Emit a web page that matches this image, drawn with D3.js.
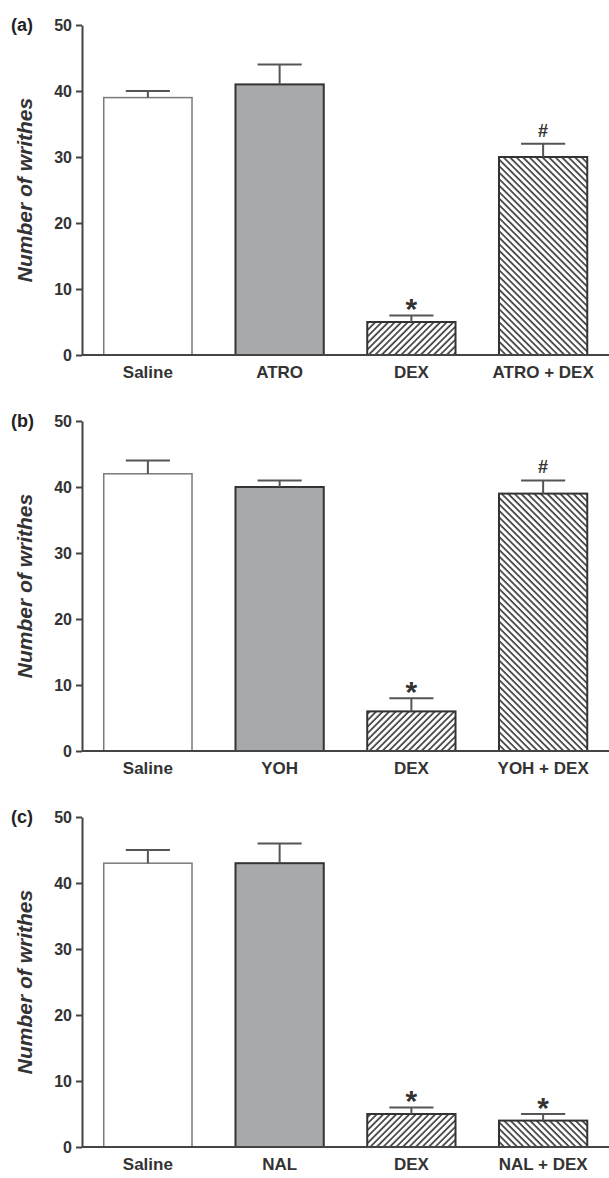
<!DOCTYPE html>
<html>
<head>
<meta charset="utf-8">
<script src="https://cdn.jsdelivr.net/npm/d3@7"></script>
<style>
  body { margin: 0; background: #fff; }
  svg { display: block; font-family: "Liberation Sans", Arial, Helvetica, sans-serif; }
</style>
</head>
<body>
<div id="chart"></div>
<script>
var panel_labels = ["(a)", "(b)", "(c)"];

var categories_a = ["Saline", "ATRO", "DEX", "ATRO + DEX"];
var means_a = [39, 41, 5, 30];
var errors_a = [1, 3, 1, 2];
var marks_a = ["", "", "*", "#"];

var categories_b = ["Saline", "YOH", "DEX", "YOH + DEX"];
var means_b = [42, 40, 6, 39];
var errors_b = [2, 1, 2, 2];
var marks_b = ["", "", "*", "#"];

var categories_c = ["Saline", "NAL", "DEX", "NAL + DEX"];
var means_c = [43, 43, 5, 4];
var errors_c = [2, 3, 1, 1];
var marks_c = ["", "", "*", "*"];

var y_ticks = [0, 10, 20, 30, 40, 50];
var y_title = "Number of writhes";

var width = 609, height = 1178;
var panel_step = 396;
var axis_x = 82;

var svg = d3.select("#chart")
            .append("svg")
            .attr("width", width)
            .attr("height", height);

// hatch patterns for DEX ("/") and combination ("\") bars
var defs = svg.append("defs");
function hatch(id, angle) {
    var p = defs.append("pattern")
                .attr("id", id)
                .attr("patternUnits", "userSpaceOnUse")
                .attr("width", 4.6)
                .attr("height", 10)
                .attr("patternTransform", "rotate(" + angle + ")");
    p.append("rect").attr("width", 4.6).attr("height", 10).attr("fill", "#fff");
    p.append("line")
     .attr("x1", 1).attr("y1", 0).attr("x2", 1).attr("y2", 10)
     .attr("stroke", "#333").attr("stroke-width", 1.6);
}
hatch("hatch_right", 45);
hatch("hatch_left", -45);

var bar_fill = ["#ffffff", "#a8a9ac", "url(#hatch_right)", "url(#hatch_left)"];
var bar_stroke = ["#7a7a7a", "#333333", "#333333", "#333333"];
var bar_stroke_w = [1.5, 2, 2, 2];

var panels = [
    { label: panel_labels[0], cats: categories_a, means: means_a, errs: errors_a, marks: marks_a },
    { label: panel_labels[1], cats: categories_b, means: means_b, errs: errors_b, marks: marks_b },
    { label: panel_labels[2], cats: categories_c, means: means_c, errs: errors_c, marks: marks_c }
];

panels.forEach(function(pd, pi) {
    var off = pi * panel_step;
    var g = svg.append("g");

    var y = d3.scaleLinear().domain([0, 50]).range([355 + off, 25 + off]);
    var x = d3.scaleBand().domain(pd.cats).range([axis_x, width])
              .paddingInner(0.33).paddingOuter(0.165);

    var rows = pd.cats.map(function(c, i) {
        return { cat: c, mean: pd.means[i], err: pd.errs[i], mark: pd.marks[i], i: i };
    });

    // bars
    g.selectAll("rect.bar")
     .data(rows)
     .enter()
     .append("rect")
     .attr("class", "bar")
     .attr("x", function(d) { return x(d.cat); })
     .attr("width", x.bandwidth())
     .attr("y", function(d) { return y(d.mean); })
     .attr("height", function(d) { return y(0) - y(d.mean); })
     .attr("fill", function(d) { return bar_fill[d.i]; })
     .attr("stroke", function(d) { return bar_stroke[d.i]; })
     .attr("stroke-width", function(d) { return bar_stroke_w[d.i]; });

    // error bars (upper only)
    var cap = x.bandwidth() / 2;
    var eb = g.selectAll("g.err")
              .data(rows)
              .enter()
              .append("g")
              .attr("class", "err")
              .attr("stroke", "#555")
              .attr("stroke-width", 2);
    eb.append("line")
      .attr("x1", function(d) { return x(d.cat) + x.bandwidth() / 2; })
      .attr("x2", function(d) { return x(d.cat) + x.bandwidth() / 2; })
      .attr("y1", function(d) { return y(d.mean); })
      .attr("y2", function(d) { return y(d.mean + d.err); });
    eb.append("line")
      .attr("x1", function(d) { return x(d.cat) + x.bandwidth() / 2 - cap / 2; })
      .attr("x2", function(d) { return x(d.cat) + x.bandwidth() / 2 + cap / 2; })
      .attr("y1", function(d) { return y(d.mean + d.err); })
      .attr("y2", function(d) { return y(d.mean + d.err); });

    // significance marks
    g.selectAll("text.mark")
     .data(rows.filter(function(d) { return d.mark !== ""; }))
     .enter()
     .append("text")
     .attr("class", "mark")
     .attr("x", function(d) { return x(d.cat) + x.bandwidth() / 2; })
     .attr("y", function(d) { return y(d.mean + d.err) + (d.mark === "*" ? 4 : -7); })
     .attr("text-anchor", "middle")
     .attr("font-weight", "bold")
     .attr("font-size", function(d) { return d.mark === "*" ? 30 : 18; })
     .attr("fill", "#333")
     .text(function(d) { return d.mark; });

    // y axis
    var ya = g.append("g")
              .attr("transform", "translate(" + axis_x + ",0)")
              .call(d3.axisLeft(y).tickValues(y_ticks).tickSize(6).tickSizeOuter(0).tickPadding(4));
    ya.select(".domain").attr("stroke", "#444").attr("stroke-width", 2);
    ya.selectAll(".tick line").attr("stroke", "#444").attr("stroke-width", 2);
    ya.selectAll(".tick text")
      .attr("font-size", 16)
      .attr("font-weight", "bold")
      .attr("font-family", "Liberation Sans, Arial, sans-serif")
      .attr("fill", "#333");

    // x axis
    var xa = g.append("g")
              .attr("transform", "translate(0," + y(0) + ")")
              .call(d3.axisBottom(x).tickSize(0).tickSizeOuter(0).tickPadding(11));
    xa.select(".domain").attr("stroke", "#444").attr("stroke-width", 2)
      .attr("d", "M" + axis_x + ",0H" + width);
    xa.selectAll(".tick text")
      .attr("font-size", 17)
      .attr("font-weight", "bold")
      .attr("font-family", "Liberation Sans, Arial, sans-serif")
      .attr("fill", "#333");

    // y title
    g.append("text")
     .attr("transform", "translate(32," + (y(25)) + ") rotate(-90)")
     .attr("text-anchor", "middle")
     .attr("font-size", 21)
     .attr("font-weight", "bold")
     .attr("font-style", "italic")
     .attr("fill", "#333")
     .text(y_title);

    // panel label
    g.append("text")
     .attr("x", 11)
     .attr("y", 31 + off)
     .attr("font-size", 18)
     .attr("font-weight", "bold")
     .attr("fill", "#222")
     .text(pd.label);
});
</script>
</body>
</html>
